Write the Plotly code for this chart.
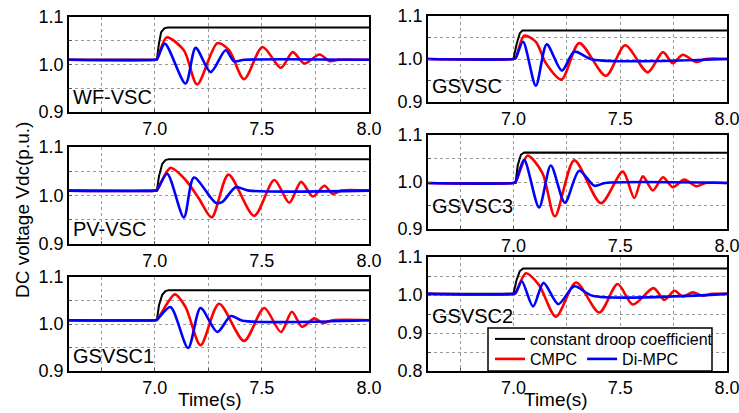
import plotly.graph_objects as go

# ---------------- data ----------------
panel_names = ["WF-VSC", "GSVSC", "PV-VSC", "GSVSC3", "GSVSC1", "GSVSC2"]
series_names = ["constant droop coefficient", "CMPC", "Di-MPC"]
x_tick_vals = [7.0, 7.5, 8.0]
x_tick_text = ["7.0", "7.5", "8.0"]

# WF-VSC (left, top)
wf_t_droop = [6.6, 7.01, 7.02, 7.03, 7.045, 7.06, 8.0]
wf_v_droop = [1.010, 1.010, 1.045, 1.068, 1.076, 1.078, 1.078]
wf_t_cmpc = [6.6, 7.0, 7.01, 7.055, 7.136, 7.198, 7.292, 7.347, 7.417, 7.503, 7.589, 7.644, 7.698, 7.769, 7.816, 7.86, 8.0]
wf_v_cmpc = [1.010, 1.010, 1.011, 1.057, 1.030, 0.958, 1.045, 1.030, 0.969, 1.037, 0.993, 1.026, 1.002, 1.021, 1.007, 1.010, 1.010]
wf_t_dimpc = [6.6, 7.0, 7.01, 7.047, 7.144, 7.191, 7.261, 7.331, 7.37, 7.42, 8.0]
wf_v_dimpc = [1.010, 1.010, 1.011, 1.044, 0.960, 1.035, 0.984, 1.030, 1.007, 1.010, 1.010]

# GSVSC (right, top)
gs_t_droop = [6.6, 7.0, 7.015, 7.03, 7.042, 8.0]
gs_v_droop = [1.000, 1.000, 1.035, 1.060, 1.066, 1.066]
gs_t_cmpc = [6.6, 7.0, 7.01, 7.05, 7.105, 7.152, 7.225, 7.308, 7.433, 7.523, 7.629, 7.70, 7.746, 7.793, 7.856, 7.90, 8.0]
gs_v_cmpc = [1.000, 1.000, 1.002, 1.054, 1.040, 0.990, 0.952, 1.037, 0.961, 1.032, 0.969, 1.016, 0.990, 1.010, 0.993, 1.000, 1.000]
gs_t_dimpc = [6.6, 7.0, 7.01, 7.045, 7.105, 7.156, 7.227, 7.285, 7.37, 8.0]
gs_v_dimpc = [1.000, 1.000, 1.002, 1.040, 0.938, 1.034, 0.973, 1.017, 0.999, 1.000]

# PV-VSC (left, middle)
pv_t_droop = [6.6, 7.01, 7.02, 7.035, 7.05, 7.065, 8.0]
pv_v_droop = [1.010, 1.010, 1.040, 1.065, 1.073, 1.075, 1.075]
pv_t_cmpc = [6.6, 7.0, 7.01, 7.073, 7.144, 7.206, 7.266, 7.344, 7.464, 7.558, 7.628, 7.683, 7.738, 7.792, 7.831, 7.87, 8.0]
pv_v_cmpc = [1.010, 1.010, 1.011, 1.057, 1.032, 0.994, 0.955, 1.043, 0.958, 1.032, 0.985, 1.028, 0.998, 1.020, 1.003, 1.010, 1.010]
pv_t_dimpc = [6.6, 7.0, 7.01, 7.058, 7.136, 7.183, 7.284, 7.316, 7.378, 7.44, 8.0]
pv_v_dimpc = [1.010, 1.010, 1.011, 1.045, 0.955, 1.037, 0.985, 0.987, 1.017, 1.010, 1.010]

# GSVSC3 (right, middle)
g3_t_droop = [6.6, 7.01, 7.02, 7.035, 7.05, 8.0]
g3_v_droop = [0.998, 0.998, 1.035, 1.058, 1.063, 1.062]
g3_t_cmpc = [6.6, 7.0, 7.01, 7.066, 7.136, 7.194, 7.285, 7.41, 7.512, 7.566, 7.606, 7.653, 7.70, 7.746, 7.80, 7.856, 7.90, 8.0]
g3_v_cmpc = [0.998, 0.998, 1.000, 1.056, 1.019, 0.927, 1.046, 0.955, 1.022, 0.966, 1.012, 0.982, 1.010, 0.989, 1.005, 0.991, 0.998, 0.998]
g3_t_dimpc = [6.6, 7.0, 7.01, 7.05, 7.12, 7.175, 7.241, 7.308, 7.379, 7.43, 8.0]
g3_v_dimpc = [0.998, 0.998, 1.000, 1.047, 0.946, 1.035, 0.956, 1.024, 0.992, 0.998, 0.998]

# GSVSC1 (left, bottom)
g1_t_droop = [6.6, 7.01, 7.02, 7.035, 7.05, 7.065, 8.0]
g1_v_droop = [1.008, 1.008, 1.040, 1.062, 1.070, 1.072, 1.072]
g1_t_cmpc = [6.6, 7.0, 7.01, 7.094, 7.144, 7.214, 7.30, 7.417, 7.511, 7.589, 7.64, 7.688, 7.745, 7.784, 7.83, 8.0]
g1_v_cmpc = [1.008, 1.008, 1.009, 1.063, 1.036, 0.955, 1.043, 0.964, 1.034, 0.983, 1.026, 0.994, 1.012, 1.002, 1.008, 1.008]
g1_t_dimpc = [6.6, 7.0, 7.01, 7.073, 7.156, 7.214, 7.292, 7.355, 7.41, 8.0]
g1_v_dimpc = [1.008, 1.008, 1.009, 1.036, 0.949, 1.034, 0.983, 1.017, 1.007, 1.008]

# GSVSC2 (right, bottom)
g2_t_droop = [6.6, 7.0, 7.015, 7.03, 7.045, 8.0]
g2_v_droop = [1.003, 1.003, 1.040, 1.063, 1.070, 1.070]
g2_t_cmpc = [6.6, 7.0, 7.01, 7.058, 7.12, 7.199, 7.293, 7.402, 7.488, 7.559, 7.656, 7.707, 7.754, 7.793, 7.84, 7.887, 7.93, 8.0]
g2_v_cmpc = [1.003, 1.003, 1.005, 1.057, 1.026, 0.943, 1.033, 0.954, 1.029, 0.975, 1.018, 0.987, 1.011, 0.996, 1.007, 0.998, 1.003, 1.003]
g2_t_dimpc = [6.6, 7.0, 7.01, 7.039, 7.092, 7.141, 7.21, 7.285, 7.37, 8.0]
g2_v_dimpc = [1.003, 1.003, 1.005, 1.036, 0.970, 1.032, 0.976, 1.023, 0.998, 1.003]

panels = [
    (wf_t_droop, wf_v_droop, wf_t_cmpc, wf_v_cmpc, wf_t_dimpc, wf_v_dimpc),
    (gs_t_droop, gs_v_droop, gs_t_cmpc, gs_v_cmpc, gs_t_dimpc, gs_v_dimpc),
    (pv_t_droop, pv_v_droop, pv_t_cmpc, pv_v_cmpc, pv_t_dimpc, pv_v_dimpc),
    (g3_t_droop, g3_v_droop, g3_t_cmpc, g3_v_cmpc, g3_t_dimpc, g3_v_dimpc),
    (g1_t_droop, g1_v_droop, g1_t_cmpc, g1_v_cmpc, g1_t_dimpc, g1_v_dimpc),
    (g2_t_droop, g2_v_droop, g2_t_cmpc, g2_v_cmpc, g2_t_dimpc, g2_v_dimpc),
]
y_ranges = [[0.9, 1.1], [0.9, 1.1], [0.9, 1.1], [0.9, 1.1], [0.9, 1.1], [0.8, 1.1]]

# ---------------- layout (pixel geometry) ----------------
W, H = 739, 413
col_x = [(69, 369), (428, 727)]
row_y = [[(17, 112), (147, 244), (277, 371)],
         [(16, 102), (135, 229), (257, 371)]]
label_lift = [2, 3, 2, 10, 2, 42]   # pixels above the panel bottom

FONT = "Arial, Liberation Sans, sans-serif"
colors = ["#000000", "#ff0000", "#0000ff"]
widths = [2.0, 2.6, 2.6]

fig = go.Figure()
layout = dict(
    width=W, height=H,
    margin=dict(l=0, r=0, t=0, b=0, pad=0),
    paper_bgcolor="white", plot_bgcolor="white",
    font=dict(family=FONT, size=18, color="black"),
    showlegend=True,
)
annotations = []

for i, data in enumerate(panels):
    col = i % 2
    row = i // 2
    k = i + 1
    xs = "" if k == 1 else str(k)
    x0, x1 = col_x[col]
    y0, y1 = row_y[col][row]
    for s in range(3):
        t, v = data[2 * s], data[2 * s + 1]
        tr = dict(
            x=t, y=v, mode="lines", name=series_names[s],
            line=dict(color=colors[s], width=widths[s],
                      shape="linear" if s == 0 else "spline", smoothing=0.8),
            xaxis="x" + xs, yaxis="y" + xs, showlegend=False,
        )
        if i == 5:
            tr["showlegend"] = True
            tr["legend"] = "legend" if s == 0 else "legend2"
        fig.add_trace(go.Scatter(**tr))
    axcommon = dict(
        showline=True, linecolor="black", linewidth=1.5, mirror=True,
        showgrid=True, gridcolor="#9a9a9a", griddash="dot", gridwidth=1,
        ticks="inside", ticklen=3, tickcolor="#555", zeroline=False,
        automargin=False, ticklabeloverflow="allow",
        tickfont=dict(size=18, family=FONT, color="black"),
    )
    layout["xaxis" + xs] = dict(
        axcommon, domain=[x0 / W, x1 / W], range=[6.6, 8.0],
        tickmode="array", tickvals=x_tick_vals, ticktext=x_tick_text,
        minor=dict(dtick=0.25, tick0=7.0, showgrid=True, gridcolor="#9a9a9a",
                   griddash="dot", ticks="inside", ticklen=3, tickcolor="#555"),
        anchor="y" + xs,
    )
    layout["yaxis" + xs] = dict(
        axcommon, domain=[1 - y1 / H, 1 - y0 / H], range=y_ranges[i],
        dtick=0.1, tick0=0.8, tickformat=".1f",
        minor=dict(dtick=0.05, showgrid=True, gridcolor="#9a9a9a",
                   griddash="dot", ticks="inside", ticklen=3, tickcolor="#555"),
        anchor="x" + xs,
    )
    annotations.append(dict(
        text=panel_names[i], xref="x" + xs + " domain", yref="y" + xs + " domain",
        x=0.0, y=0.0, xanchor="left", yanchor="bottom", xshift=2,
        yshift=label_lift[i],
        showarrow=False, font=dict(size=20, family=FONT, color="black"),
    ))

annotations.append(dict(
    text="Time(s)", xref="paper", yref="paper", x=210 / W, y=1 - 399 / H,
    xanchor="center", yanchor="middle", showarrow=False,
    font=dict(size=19, family=FONT)))
annotations.append(dict(
    text="Time(s)", xref="paper", yref="paper", x=556 / W, y=1 - 399 / H,
    xanchor="center", yanchor="middle", showarrow=False,
    font=dict(size=19, family=FONT)))
annotations.append(dict(
    text="DC voltage Vdc(p.u.)", xref="paper", yref="paper",
    x=22 / W, y=1 - 210 / H, textangle=-90,
    xanchor="center", yanchor="middle", showarrow=False,
    font=dict(size=19, family=FONT)))

layout["annotations"] = annotations
layout["shapes"] = [dict(
    type="rect", xref="paper", yref="paper", layer="above",
    x0=488 / W, x1=712 / W, y0=1 - 371 / H, y1=1 - 328 / H,
    line=dict(color="black", width=1.5), fillcolor="white")]
layout["legend"] = dict(
    x=490 / W, y=1 - 322 / H, xanchor="left", yanchor="top",
    bgcolor="rgba(0,0,0,0)", borderwidth=0, orientation="h",
    font=dict(size=16, family=FONT), itemwidth=30, tracegroupgap=0)
layout["legend2"] = dict(
    x=490 / W, y=1 - 342 / H, xanchor="left", yanchor="top",
    bgcolor="rgba(0,0,0,0)", borderwidth=0, orientation="h",
    font=dict(size=16, family=FONT), itemwidth=30, tracegroupgap=0)

fig.update_layout(**layout)
fig.write_html(
    "out.html",
    config={"displayModeBar": False},
    post_script="document.body.style.margin='0px';document.body.style.padding='0px';",
)
